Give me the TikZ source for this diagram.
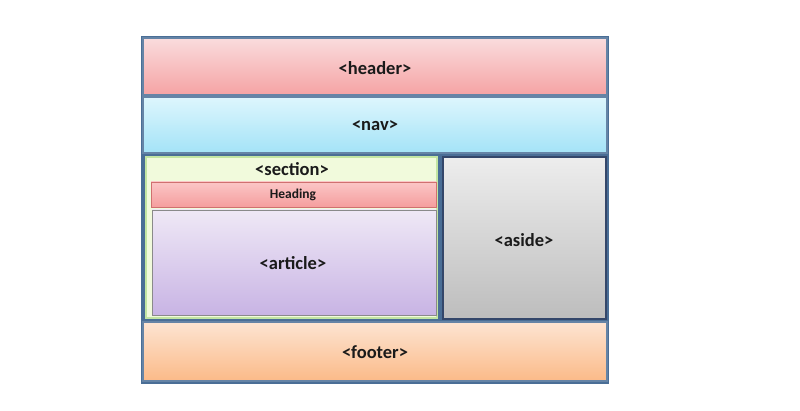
\documentclass[tikz,border=0pt]{standalone}
\usepackage{fontspec}
\setmainfont{Carlito}
\definecolor{frame}{HTML}{4A6E96}
\definecolor{hdrtop}{HTML}{FADCDD}
\definecolor{hdrbot}{HTML}{F5A3A4}
\definecolor{navtop}{HTML}{DDF6FD}
\definecolor{navbot}{HTML}{A4E3F7}
\definecolor{secfill}{HTML}{F1FADC}
\definecolor{secdraw}{HTML}{C3E5A3}
\definecolor{headtop}{HTML}{FBC6C6}
\definecolor{headbot}{HTML}{F59E9E}
\definecolor{headdraw}{HTML}{D0706F}
\definecolor{arttop}{HTML}{EFE8F6}
\definecolor{artbot}{HTML}{C8B4E4}
\definecolor{artdraw}{HTML}{8A8A8A}
\definecolor{asidetop}{HTML}{EDEDED}
\definecolor{asidebot}{HTML}{BDBDBD}
\definecolor{asidedraw}{HTML}{34476A}
\definecolor{foottop}{HTML}{FDE4D2}
\definecolor{footbot}{HTML}{FBBA88}
\definecolor{txt}{HTML}{1A1A1A}
\tikzset{
  blk/.style={rectangle, inner sep=0pt, outer sep=0pt, anchor=north west},
  band/.style={blk, draw=frame!85, line width=1.2pt},
  lbl/.style={text=txt, inner sep=0pt, font=\fontsize{18.5}{22}\selectfont\bfseries},
  smalllbl/.style={text=txt, inner sep=0pt, font=\fontsize{13.5}{16}\selectfont\bfseries},
}
\begin{document}
\begin{tikzpicture}[x=1pt,y=-1pt]
\useasboundingbox (0,0) rectangle (800,411);
\fill[white] (0,0) rectangle (800,411);
% outer frame
\node[blk, fill=frame, draw=frame, line width=1.2pt, minimum width=466pt, minimum height=346pt] (outer) at (142,37) {};
% header
\node[band, top color=hdrtop, bottom color=hdrbot, minimum width=464pt, minimum height=57pt] (header) at (143,38) {};
\node[lbl] (headerlbl) at (375,68) {<header>};
% nav
\node[band, top color=navtop, bottom color=navbot, minimum width=464pt, minimum height=56pt] (nav) at (143,97) {};
\node[lbl] (navlbl) at (375,126) {<nav>};
% section
\node[blk, fill=secfill, draw=secdraw, line width=1.5pt, minimum width=291pt, minimum height=161pt] (section) at (146,157) {};
\node[lbl] (seclbl) at (292,169) {<section>};
% heading
\node[blk, top color=headtop, bottom color=headbot, draw=headdraw, line width=0.8pt, minimum width=285pt, minimum height=25pt] (heading) at (151,182) {};
\node[smalllbl] (headinglbl) at (293,194.5) {Heading};
% article
\node[blk, top color=arttop, bottom color=artbot, draw=artdraw, line width=0.8pt, minimum width=284pt, minimum height=105pt] (article) at (152,210) {};
\node[lbl] (articlelbl) at (293,263) {<article>};
% aside
\node[blk, top color=asidetop, bottom color=asidebot, draw=asidedraw, line width=1.2pt, minimum width=163pt, minimum height=162pt] (aside) at (443,157) {};
\node[lbl] (asidelbl) at (524,240) {<aside>};
% footer
\node[band, top color=foottop, bottom color=footbot, minimum width=464pt, minimum height=59pt] (footer) at (143,322) {};
\node[lbl] (footerlbl) at (375,352) {<footer>};
\end{tikzpicture}
\end{document}
